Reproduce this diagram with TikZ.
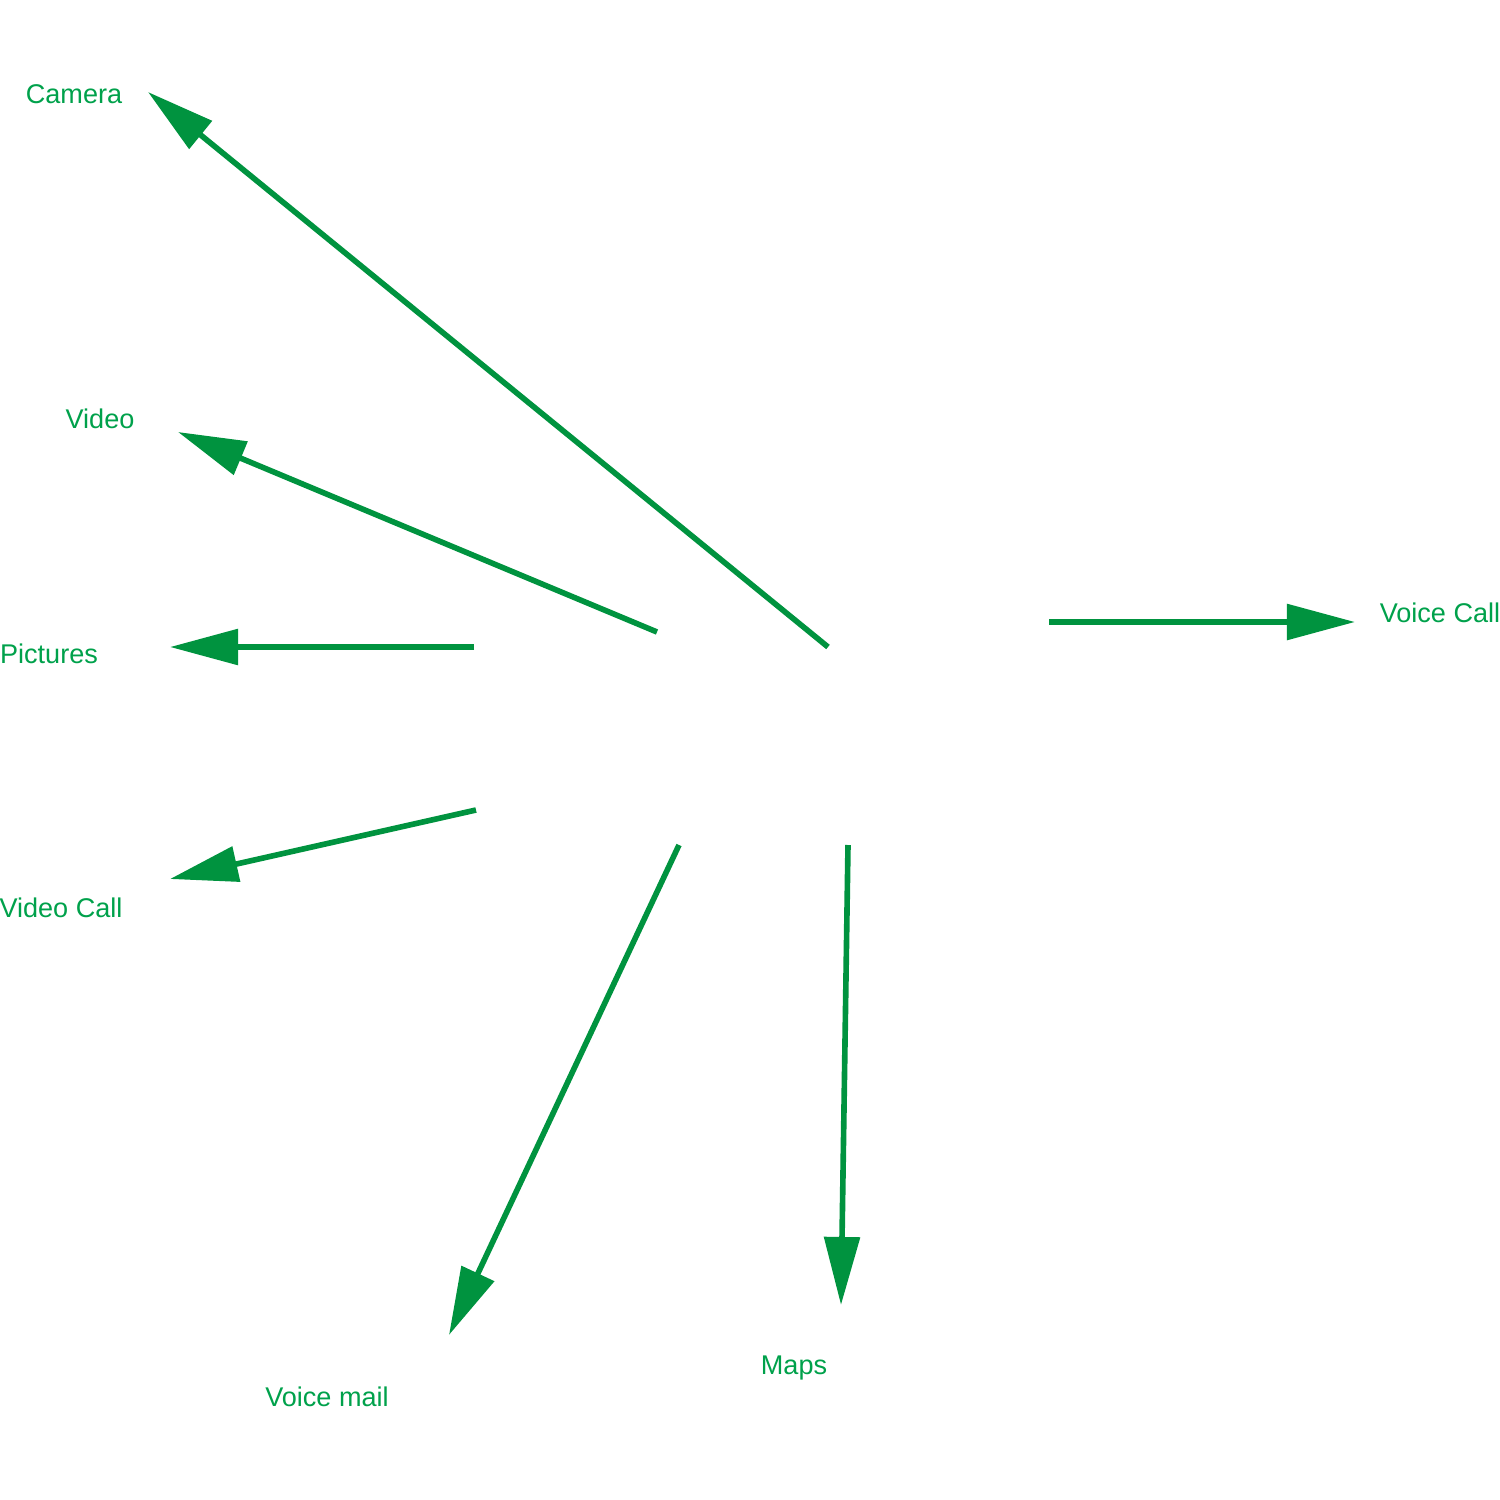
\documentclass[tikz,border=0pt]{standalone}
\usepackage{fontspec}
\setmainfont{Liberation Sans}
\usetikzlibrary{arrows.meta}
\definecolor{arrowgreen}{HTML}{00933F}
\definecolor{labelgreen}{HTML}{00A14B}
\begin{document}
\begin{tikzpicture}[x=0.01cm,y=-0.01cm,
  feature/.style={text=labelgreen,font=\fontsize{7.7}{9}\selectfont,inner sep=0pt},
  link/.style={draw=arrowgreen,line width=1.6pt,
    -{Triangle[length=0.68cm,width=0.35cm,fill=arrowgreen]}}]
  \useasboundingbox (0,0) rectangle (1500,1500);

  % feature labels
  \node[feature] (camera) at (74,94) {Camera};
  \node[feature] (video) at (100,419) {Video};
  \node[feature] (pictures) at (49,654) {Pictures};
  \node[feature] (videocall) at (61,908) {Video Call};
  \node[feature] (voicemail) at (327,1397) {Voice mail};
  \node[feature] (maps) at (794,1368) {Maps};
  \node[feature] (voicecall) at (1440,613) {Voice Call};

  % arrow start and tip points
  \coordinate (s1) at (828,647);  \coordinate (t1) at (148,92);
  \coordinate (s2) at (657,632);  \coordinate (t2) at (178,432);
  \coordinate (s3) at (474,647);  \coordinate (t3) at (170,647);
  \coordinate (s4) at (476,810);  \coordinate (t4) at (170,879);
  \coordinate (s5) at (679,845);  \coordinate (t5) at (449,1335);
  \coordinate (s6) at (848,845);  \coordinate (t6) at (841,1305);
  \coordinate (s7) at (1049,622); \coordinate (t7) at (1355,622);

  \draw[link] (s1) -- (t1);
  \draw[link] (s2) -- (t2);
  \draw[link] (s3) -- (t3);
  \draw[link] (s4) -- (t4);
  \draw[link] (s5) -- (t5);
  \draw[link] (s6) -- (t6);
  \draw[link] (s7) -- (t7);
\end{tikzpicture}
\end{document}
